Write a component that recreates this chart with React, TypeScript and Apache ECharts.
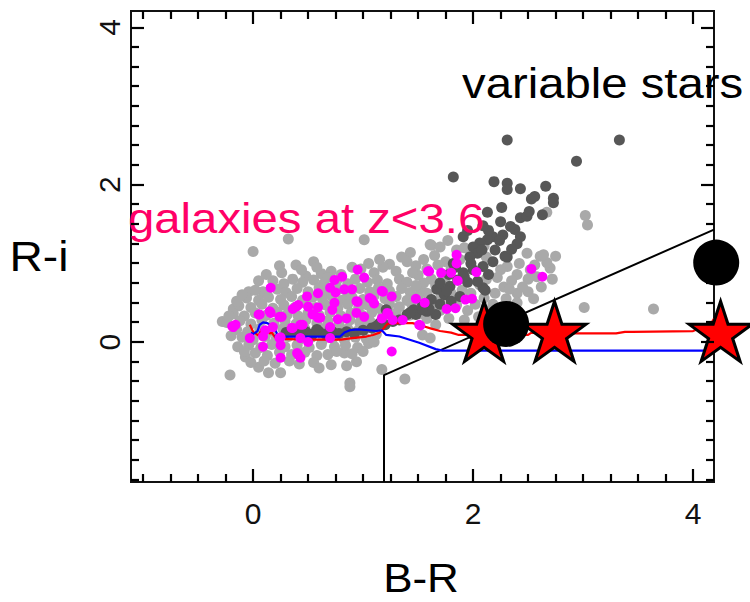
import React, { useEffect, useRef } from "react";
import * as echarts from "echarts";

// ---- axis ranges & ticks ----
const X_MIN = -1.11;
const X_MAX = 4.19;
const Y_MIN = -1.78;
const Y_MAX = 4.21;
const xMajorTicks = [0, 2, 4];
const yMajorTicks = [0, 2, 4];
const xMinorTicks = [-1, -0.75, -0.5, -0.25, 0.25, 0.5, 0.75, 1, 1.25, 1.5, 1.75, 2.25, 2.5, 2.75, 3, 3.25, 3.5, 3.75];
const yMinorTicks = [-1.75, -1.5, -1.25, -1, -0.75, -0.5, -0.25, 0.25, 0.5, 0.75, 1, 1.25, 1.5, 1.75, 2.25, 2.5, 2.75, 3, 3.25, 3.5, 3.75];

// ---- data (B-R, R-i) ----
const lightGray = [
  [0.00,1.15],[0.24,0.97],[0.39,0.98],[0.55,1.02],[0.32,1.31],[1.01,1.30],[1.24,0.99],[-0.04,0.64],[0.09,0.64],[-0.18,0.42],[-0.28,0.26],[-0.07,-0.19],[-0.21,-0.42],[0.05,-0.32],[0.14,-0.39],[0.25,-0.39],[0.68,-0.16],[0.83,-0.14],[0.71,-0.29],[0.94,-0.25],[0.88,-0.52],[0.88,-0.57],[1.17,-0.35],[3.02,1.61],[3.04,1.49],[3.01,0.44],[3.64,0.42],[1.38,-0.47],[2.67,1.65],[1.77,1.29],[1.62,1.23],[1.43,1.14],[1.61,1.24],[1.70,1.21],[1.54,0.09],[1.61,0.05],
  [0.62,0.87],[0.71,0.90],[0.80,0.86],[0.98,0.93],[1.10,0.88],[1.18,0.95],[1.30,0.90],[0.48,0.84],
  [0.18,0.78],[0.28,0.74],[0.36,0.80],[0.45,0.76],[0.55,0.79],[0.64,0.74],[0.76,0.78],[0.86,0.74],[0.93,0.80],[1.04,0.76],[1.13,0.79],[1.22,0.74],[1.33,0.80],[1.40,0.76],
  [0.02,0.66],[0.12,0.62],[0.22,0.67],[0.30,0.63],[0.40,0.68],[0.50,0.64],[0.60,0.69],[0.67,0.63],[0.78,0.67],[0.86,0.62],[0.97,0.68],[1.06,0.64],[1.14,0.69],[1.24,0.65],[1.35,0.68],[1.43,0.63],[1.52,0.67],
  [-0.06,0.56],[0.05,0.53],[0.14,0.57],[0.25,0.54],[0.35,0.58],[0.45,0.53],[0.54,0.57],[0.63,0.55],[0.72,0.58],[0.81,0.53],[0.90,0.57],[1.00,0.54],[1.10,0.59],[1.20,0.55],[1.30,0.58],[1.40,0.53],[1.50,0.58],[1.60,0.55],
  [-0.13,0.46],[-0.02,0.44],[0.08,0.48],[0.18,0.43],[0.28,0.47],[0.38,0.44],[0.48,0.49],[0.57,0.44],[0.66,0.47],[0.77,0.43],[0.86,0.48],[0.96,0.44],[1.04,0.47],[1.14,0.43],[1.24,0.48],[1.33,0.45],[1.44,0.49],[1.55,0.45],[1.65,0.47],
  [-0.18,0.36],[-0.08,0.33],[0.02,0.37],[0.12,0.34],[0.22,0.38],[0.31,0.35],[0.41,0.33],[0.50,0.37],[0.60,0.34],[0.70,0.38],[0.80,0.33],[0.89,0.37],[0.99,0.34],[1.08,0.38],[1.18,0.33],[1.30,0.37],[1.42,0.34],[1.52,0.36],
  [-0.24,0.25],[-0.12,0.27],[-0.02,0.23],[0.08,0.28],[0.19,0.24],[0.29,0.27],[0.39,0.23],[0.48,0.28],[0.58,0.24],[0.68,0.27],[0.78,0.23],[0.88,0.28],[0.97,0.25],[1.06,0.27],
  [-0.15,0.16],[-0.05,0.13],[0.06,0.17],[0.16,0.14],[0.27,0.17],[0.37,0.13],[0.47,0.17],[0.57,0.14],[0.66,0.18],[0.76,0.15],[0.86,0.17],[0.95,0.14],[1.02,0.17],
  [-0.10,0.06],[0.00,0.03],[0.11,0.07],[0.21,0.04],[0.32,0.07],[0.42,0.03],[0.53,0.06],[0.63,0.02],[0.73,0.06],[0.83,0.03],[0.93,0.06],[1.03,0.04],
  [-0.04,-0.04],[0.07,-0.07],[0.17,-0.03],[0.29,-0.06],[0.40,-0.04],[0.51,-0.07],[0.62,-0.03],[0.74,-0.06],[0.84,-0.04],[0.95,-0.07],[1.05,-0.02],
  [0.02,-0.14],[0.13,-0.17],[0.24,-0.13],[0.35,-0.16],[0.47,-0.13],[0.58,-0.17],[0.76,-0.12],[0.90,-0.15],
  [-0.02,-0.26],[0.10,-0.24],[0.20,-0.27],[0.33,-0.24],[0.55,-0.26],
  [1.55,1.05],[1.65,1.10],[1.75,1.02],[1.85,1.17],[1.92,1.20],[1.68,0.98],[1.58,0.93],[1.48,0.97],[1.40,1.02],[1.50,0.85],[1.62,0.80],[1.72,0.86],[1.80,0.93],[1.66,0.72],[1.74,0.77],[1.58,0.62],[1.70,0.55],[1.80,0.62],[1.90,0.66],[1.85,0.47],[1.95,0.40],[2.02,0.48],[2.10,0.56],[2.20,0.62],[2.28,0.70],[2.18,0.48],[2.30,0.55],[2.40,0.62],[2.50,0.64],[2.45,0.70],[2.58,0.83],[2.52,0.92],[2.70,0.94],[2.67,1.01],[2.75,1.09],[2.61,1.09],[2.49,1.13],[2.64,1.11],[2.31,0.96],[2.40,0.86],[2.50,0.80],[2.35,0.78],[2.22,0.82],[2.12,0.80],[2.25,0.92],[2.42,1.00],[2.56,0.98],[2.33,0.67],[2.15,0.40],[2.05,0.32],[1.92,0.28],[1.78,0.30],[1.70,0.40],[2.40,0.50],[2.55,0.55],[2.62,0.70],[2.72,0.80],[1.98,0.62],[2.06,0.73],[1.88,1.05],[1.98,1.14],[2.10,1.22],[2.12,1.08],
  [0.05,0.78],[0.12,0.86],[0.26,0.88],[0.44,0.92],[0.58,0.95],[0.68,0.82],[0.90,0.95],[1.05,1.00],[1.15,1.05],[1.35,1.08],[1.45,0.88],[1.55,0.75],[1.48,0.72],[1.58,0.30],[1.66,0.22],[-0.10,0.60],[-0.15,0.52],[-0.22,0.33],[-0.20,0.08],[-0.14,-0.06],[-0.08,-0.12],[0.60,-0.33],[0.42,-0.28],[0.85,-0.30],[1.00,-0.12],[1.10,0.00],[1.12,0.10]
];

const darkGray = [
  [2.31,2.57],[3.33,2.57],[2.94,2.30],[1.82,2.10],[2.19,2.04],[2.31,2.02],[2.31,1.94],[2.43,1.95],[2.66,1.98],[2.53,1.82],[2.56,1.85],[2.73,1.83],[2.73,1.77],[2.63,1.62],[2.26,1.71],[2.43,1.58],[2.49,1.60],[2.51,1.66],[2.25,1.53],[2.34,1.47],[2.38,1.43],[2.43,1.34],[2.27,1.36],[2.18,1.34],[2.13,1.30],[2.06,1.26],[2.00,1.21],[1.91,1.34],[2.04,1.13],[1.97,1.08],[2.31,1.08],[2.18,1.02],[2.09,0.96],[2.00,0.92],[1.91,0.88],[1.86,0.79],[1.79,0.71],[1.95,0.76],[1.73,0.63],[1.88,0.58],[2.09,0.69],[2.20,1.17],[2.29,1.09],[1.92,0.83],[2.04,0.77],[2.11,0.66],[1.46,0.41],[1.58,0.39],[1.66,0.35],[1.40,0.35],[1.21,0.41],[1.54,0.47],[1.60,0.42],[1.48,0.35],[1.33,0.28],[1.27,0.26],[1.15,0.24],[1.67,0.67],[1.74,0.60],[2.24,1.29],[2.14,1.42],[2.08,1.17],[1.98,1.00],[1.84,0.95],[1.78,0.86],[2.40,1.25],[2.35,1.18],[2.14,0.86],[1.70,0.48],[1.80,0.52],[1.70,0.75],[1.76,0.65],[1.82,1.00],[1.54,0.41],[1.43,0.38],[1.62,0.54],[2.13,1.65],[2.09,1.48],[1.95,1.42],
  [0.30,0.12],[0.36,0.14],[0.42,0.10],[0.48,0.13],[0.54,0.10],[0.60,0.13],[0.66,0.10],[0.72,0.13],[0.78,0.11],[0.85,0.13],[0.92,0.11],[1.00,0.15],[1.08,0.18],[1.12,0.20],[1.20,0.22],[0.40,0.16],[0.58,0.16],[0.70,0.16]
];

const magenta = [
  [0.16,0.69],[-0.19,0.20],[-0.16,0.22],[0.05,0.35],[0.16,0.37],[0.24,0.32],[0.25,-0.20],[0.41,-0.16],[0.43,-0.20],[0.09,0.07],[0.24,0.05],[0.35,0.18],[0.41,0.47],[0.50,0.45],[0.54,0.35],[0.59,0.31],[0.59,0.44],[0.70,0.69],[0.72,0.41],[0.74,0.50],[0.75,0.63],[0.74,0.79],[0.81,0.83],[0.83,0.67],[0.90,0.67],[0.95,0.92],[1.01,0.82],[0.95,0.51],[1.01,0.32],[1.08,0.54],[1.10,0.49],[1.17,0.65],[1.26,0.58],[1.22,0.37],[1.27,0.28],[1.36,0.28],[1.48,0.55],[1.56,0.50],[1.60,0.90],[1.71,0.88],[1.76,0.42],[1.26,-0.12],[1.51,0.22],[0.94,0.52],[1.06,0.56],[0.55,0.35],[0.61,0.31],[0.36,0.42],[0.39,0.45],[0.26,0.32],[0.15,0.39],[0.06,0.35],[-0.18,0.19],[0.43,0.22],[0.45,0.22],[0.85,0.30],[0.94,0.37],[1.17,0.30],[0.70,0.19],[0.77,0.29],[0.49,0.58],[0.59,0.62],[0.36,0.18],[0.18,0.19],[0.11,0.15],[-0.03,0.05],[0.25,0.06],[0.43,0.05],[0.50,0.00],[0.70,0.05],[0.09,-0.06],[0.25,-0.04],[0.40,-0.14],[1.85,1.11],[1.85,1.00],[1.59,0.90],[1.80,0.88],[1.86,0.78],[2.03,0.89],[2.53,0.93],[2.63,0.83],[1.18,0.64],[1.84,0.43],[1.93,0.54],[1.99,0.55],[1.23,0.35],[1.52,0.21]
];

const redTrack = [
  [-0.03,0.22],[0.00,0.13],[0.05,0.08],[0.08,0.17],[0.11,0.14],[0.15,0.11],[0.17,0.12],[0.20,0.06],[0.22,0.04],[0.50,0.03],[0.80,0.03],[0.90,0.05],[1.03,0.07],[1.09,0.09],[1.15,0.12],[1.19,0.18],[1.22,0.23],[1.30,0.24],[1.45,0.24],[1.55,0.20],[1.62,0.17],[1.70,0.14],[1.80,0.12],[1.87,0.09],[2.50,0.09],[2.53,0.12],[2.60,0.11],[3.30,0.11],[3.38,0.13],[3.45,0.13],[4.00,0.14],[4.05,0.17],[4.15,0.20],[4.19,0.30]
];

const blueTrack = [
  [-0.02,0.12],[0.00,0.10],[0.04,0.14],[0.06,0.22],[0.09,0.25],[0.13,0.24],[0.17,0.20],[0.20,0.16],[0.22,0.10],[0.20,0.07],[0.30,0.07],[0.79,0.07],[0.83,0.12],[0.88,0.15],[0.95,0.16],[1.05,0.15],[1.12,0.14],[1.17,0.15],[1.21,0.09],[1.33,0.07],[1.51,-0.01],[1.66,-0.09],[1.72,-0.11],[4.19,-0.11]
];

const boundary = [[1.19,-1.78],[1.19,-0.42],[4.19,1.43]];
const stars = [[2.10,0.135],[2.74,0.135],[4.25,0.135]];
const bigDots = [[2.30,0.23],[4.21,1.01]];

const STAR = "path://M50,0 L61.2,34.5 L97.6,34.5 L68.2,55.9 L79.4,90.5 L50,69.1 L20.6,90.5 L31.8,55.9 L2.4,34.5 L38.8,34.5 Z";
const TICK_FONT = "'Liberation Sans Narrow', 'Liberation Sans', Arial, sans-serif";
const TEXT_FONT = "'Liberation Sans', Arial, sans-serif";
const TICK_W = 2.2;

export default function App() {
  const ref = useRef<HTMLDivElement>(null);
  useEffect(() => {
    if (!ref.current) return;
    const chart = echarts.init(ref.current, null, { renderer: "svg" });
    const pt = (color: string) => ({ color, opacity: 1 });
    const texts = () => [
      { type: "text", x: 462, y: 83, scaleX: 1.1, z: 20, style: { text: "variable stars", fontSize: 43, fontFamily: TEXT_FONT, fill: "#000", textAlign: "left", textVerticalAlign: "middle" } },
      { type: "text", x: 128, y: 218, scaleX: 1.1, z: 20, style: { text: "galaxies at z<3.6", fontSize: 43, fontFamily: TEXT_FONT, fill: "#ff0066", textAlign: "left", textVerticalAlign: "middle" } },
      { type: "text", x: 39, y: 256, scaleX: 1.1, z: 20, style: { text: "R-i", fontSize: 42, fontFamily: TEXT_FONT, fill: "#000", textAlign: "center", textVerticalAlign: "middle" } },
      { type: "text", x: 421, y: 578, scaleX: 1.1, z: 20, style: { text: "B-R", fontSize: 40, fontFamily: TEXT_FONT, fill: "#000", textAlign: "center", textVerticalAlign: "middle" } },
    ];
    chart.setOption({
      animation: false,
      backgroundColor: "#fff",
      grid: { left: 131, right: 36, top: 11, bottom: 120, show: true, borderColor: "#111", borderWidth: 2, backgroundColor: "transparent" },
      xAxis: {
        type: "value", min: X_MIN, max: X_MAX, position: "bottom", splitLine: { show: false },
        axisLine: { show: true, onZero: false, lineStyle: { color: "#111", width: 2 } },
        axisTick: { show: true, inside: true, length: 13, customValues: xMajorTicks, lineStyle: { color: "#000", width: TICK_W } },
        axisLabel: { show: true, customValues: xMajorTicks, fontSize: 30, fontFamily: TICK_FONT, color: "#111", margin: 16 },
      },
      yAxis: {
        type: "value", min: Y_MIN, max: Y_MAX, position: "left", splitLine: { show: false },
        axisLine: { show: true, onZero: false, lineStyle: { color: "#111", width: 2 } },
        axisTick: { show: true, inside: true, length: 13, customValues: yMajorTicks, lineStyle: { color: "#000", width: TICK_W } },
        axisLabel: { show: true, customValues: yMajorTicks, rotate: 90, fontSize: 30, fontFamily: TICK_FONT, color: "#111", margin: 7 },
      },
      series: [
        { type: "scatter", data: lightGray, symbolSize: 11, itemStyle: pt("#a9a9a9"), z: 2 },
        { type: "scatter", data: darkGray, symbolSize: 11, itemStyle: pt("#575757"), z: 3 },
        { type: "line", data: boundary, showSymbol: false, lineStyle: { color: "#000", width: 2, opacity: 1 }, z: 4, clip: false },
        { type: "line", data: redTrack, showSymbol: false, lineStyle: { color: "#ff0000", width: 2.2, opacity: 1 }, z: 5 },
        { type: "line", data: blueTrack, showSymbol: false, lineStyle: { color: "#0000ff", width: 2.2, opacity: 1 }, z: 5 },
        { type: "scatter", data: magenta, symbolSize: 10, itemStyle: pt("#ff00ff"), z: 6 },
        { type: "scatter", data: stars, symbol: STAR, symbolSize: [63, 60], clip: false, itemStyle: { color: "#ff0000", opacity: 1, borderColor: "#000", borderWidth: 3 }, z: 7 },
        { type: "scatter", data: bigDots, symbolSize: 46, clip: false, itemStyle: pt("#000"), z: 8 },
      ],
    });

    // remaining tick marks (minor ticks, top and right sides) placed through the chart's own scale
    const lo = chart.convertToPixel({ gridIndex: 0 }, [X_MIN, Y_MIN]) as number[];
    const hi = chart.convertToPixel({ gridIndex: 0 }, [X_MAX, Y_MAX]) as number[];
    const ticks: any[] = [];
    const seg = (x1: number, y1: number, x2: number, y2: number) =>
      ticks.push({ type: "line", z: 30, shape: { x1, y1, x2, y2 }, style: { stroke: "#000", lineWidth: TICK_W } });
    const addX = (v: number, len: number, bottomToo: boolean) => {
      const p = chart.convertToPixel({ gridIndex: 0 }, [v, Y_MIN]) as number[];
      const x = Math.round(p[0]);
      if (bottomToo) seg(x, lo[1], x, lo[1] - len);
      seg(x, hi[1], x, hi[1] + len);
    };
    const addY = (v: number, len: number, leftToo: boolean) => {
      const p = chart.convertToPixel({ gridIndex: 0 }, [X_MIN, v]) as number[];
      const y = Math.round(p[1]);
      if (leftToo) seg(lo[0], y, lo[0] + len, y);
      seg(hi[0], y, hi[0] - len, y);
    };
    xMajorTicks.forEach((v) => addX(v, 13, false));
    xMinorTicks.forEach((v) => addX(v, 8, true));
    yMajorTicks.forEach((v) => addY(v, 13, false));
    yMinorTicks.forEach((v) => addY(v, 8, true));
    chart.setOption({ graphic: [...texts(), ...ticks] });

    return () => chart.dispose();
  }, []);
  return <div ref={ref} style={{ position: "absolute", left: 0, top: 0, width: 750, height: 602 }} />;
}
